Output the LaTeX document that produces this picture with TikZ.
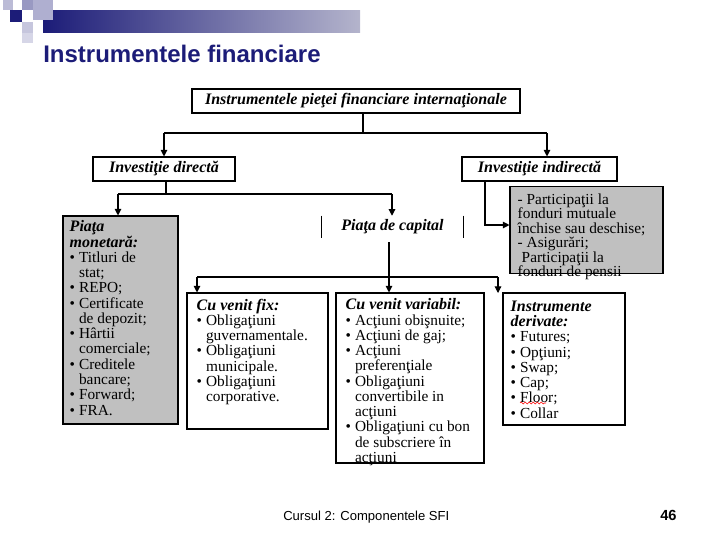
\documentclass[tikz,border=0pt]{standalone}
\usepackage{fontspec}
\setmainfont{Liberation Serif}
\newfontfamily\arialf{Liberation Sans}
\usetikzlibrary{arrows.meta,calc,decorations.pathmorphing}
\definecolor{navy}{HTML}{1C1C78}
\definecolor{barend}{HTML}{B4B4CC}
\definecolor{boxgrey}{HTML}{C0C0C0}
\newcommand\bl{\makebox[7pt][l]{\textbullet}}
\newcommand\ind{\hspace*{7pt}}
\newcommand\hd[1]{{\fontsize{12}{11.45}\selectfont\bfseries\itshape #1}}
\begin{document}
\begin{tikzpicture}[x=0.75pt,y=-0.75pt,
  box/.style={draw, line width=0.8pt, inner sep=0pt},
  ttl/.style={font=\fontsize{12}{12}\selectfont\bfseries\itshape},
  txt/.style={inner sep=0pt, align=left, anchor=north west, font=\fontsize{11.5}{11.45}\selectfont},
  ln/.style={line width=0.8pt},
  arr/.style={ln, -{Triangle[length=5pt,width=5pt]}}]
\useasboundingbox (0,0) rectangle (720,540);
% header decoration
\shade[left color=navy, right color=barend] (43,10) rectangle (360,32);
\fill[navy!30] (3,0) rectangle (13,10);
\fill[navy!45] (22,0) rectangle (33,10);
\fill[navy!35] (33,0) rectangle (53,20);
\fill[navy] (10,10) rectangle (22,22);
\fill[navy!25] (22,22) rectangle (33,33);
\fill[navy!18] (22,33) rectangle (33,43);
\node[anchor=base west, inner sep=0pt, text=navy, font=\arialf\fontsize{18}{20}\selectfont\bfseries] (title) at (43,62) {Instrumentele financiare};

% boxes
\node[box, ttl, minimum width=246pt, minimum height=18pt] (top) at (356,101) {Instrumentele pieţei financiare internaţionale};
\node[box, ttl, minimum width=106.5pt, minimum height=18pt] (inv1) at (164,169) {Investiţie directă};
\node[box, ttl, minimum width=116.25pt, minimum height=18pt] (inv2) at (539.5,169) {Investiţie indirectă};
\node[box, fill=boxgrey, minimum width=86.25pt, minimum height=156pt] (pm) at (120.5,320) {};
\node[ttl, inner sep=0pt, minimum width=105.75pt, minimum height=16.5pt] (cap) at (392.5,227) {Piaţa de capital};
\node[box, minimum width=105.75pt, minimum height=102pt] (fix) at (257.5,361) {};
\node[box, minimum width=111pt, minimum height=127.5pt] (var) at (410,378) {};
\node[box, minimum width=91.5pt, minimum height=99pt] (der) at (564,359) {};
\node[box, fill=boxgrey, minimum width=114.75pt, minimum height=65pt] (grey) at (586.5,230) {};

% texts
\node[txt] (pmt) at ($(pm.north west)+(7,5)$) {\hd{Piaţa}\\\hd{monetară:}\\\bl Titluri de\\\ind stat;\\\bl REPO;\\\bl Certificate\\\ind de depozit;\\\bl Hârtii\\\ind comerciale;\\\bl Creditele\\\ind bancare;\\\bl Forward;\\\bl FRA.};
\node[txt] (fixt) at ($(fix.north west)+(10,6)$) {\hd{Cu venit fix:}\\\bl Obligaţiuni\\\ind guvernamentale.\\\bl Obligaţiuni\\\ind municipale.\\\bl Obligaţiuni\\\ind corporative.};
\node[txt] (vart) at ($(var.north west)+(10,6)$) {\hd{Cu venit variabil:}\\\bl Acţiuni obişnuite;\\\bl Acţiuni de gaj;\\\bl Acţiuni\\\ind preferenţiale\\\bl Obligaţiuni\\\ind convertibile in\\\ind acţiuni\\\bl Obligaţiuni cu bon\\\ind de subscriere în\\\ind acţiuni};
\node[txt] (dert) at ($(der.north west)+(8,8)$) {\hd{Instrumente}\\\hd{derivate:}\\\bl Futures;\\\bl Opţiuni;\\\bl Swap;\\\bl Cap;\\\bl Floor;\\\bl Collar};
\node[txt, font=\fontsize{11.5}{10.9}\selectfont] (greyt) at ($(grey.north west)+(8,7)$) {- Participaţii la\\fonduri mutuale\\închise sau deschise;\\- Asigurări;\\\hspace*{3pt}Participaţii la\\fonduri de pensii};

% spell-check underline under "Floor"
\coordinate (w1) at (520,403);
\coordinate (w2) at (546,403);
\draw[red, line width=0.4pt, decorate, decoration={snake, amplitude=0.7pt, segment length=3pt}] (w1) -- (w2);

% connectors
\coordinate (t0) at (363,133);
\coordinate (tL) at (164,133);
\coordinate (tR) at (547,133);
\draw[ln] (top.south -| t0) -- (t0);
\draw[ln] (tL) -- (tR);
\draw[arr] (tL) -- (tL |- inv1.north);
\draw[arr] (tR) -- (tR |- inv2.north);

\coordinate (d0) at (166,194);
\coordinate (dL) at (118,194);
\coordinate (dR) at (392,194);
\draw[ln] (inv1.south -| d0) -- (d0);
\draw[ln] (dL) -- (dR);
\draw[arr] (dL) -- (dL |- pm.north);
\draw[arr] (dR) -- (dR |- cap.north);

\draw[ln] (cap.north west) -- (cap.south west);
\draw[ln] (cap.north east) -- (cap.south east);

\coordinate (e0) at (389,277);
\coordinate (eL) at (197,277);
\coordinate (eR) at (498,277);
\coordinate (e0s) at (389,242);
\coordinate (eRe) at (498,293);
\draw[ln] (e0s) -- (e0);
\draw[ln] (eL) -- (eR);
\draw[arr] (eL) -- (eL |- fix.north);
\draw[arr] (e0) -- (e0 |- var.north);
\draw[arr] (eR) -- (eRe);

\coordinate (c2) at (485,225);
\draw[arr] (inv2.south -| c2) -- (c2) -- (c2 -| grey.west);

% footer
\node[anchor=base west, inner sep=0pt, font=\arialf\fontsize{9.8}{11}\selectfont] (foot) at (283,520) {Cursul 2: Componentele SFI};
\node[anchor=base west, inner sep=0pt, font=\arialf\fontsize{11}{12}\selectfont\bfseries] (num) at (660,520) {46};
\end{tikzpicture}
\end{document}
